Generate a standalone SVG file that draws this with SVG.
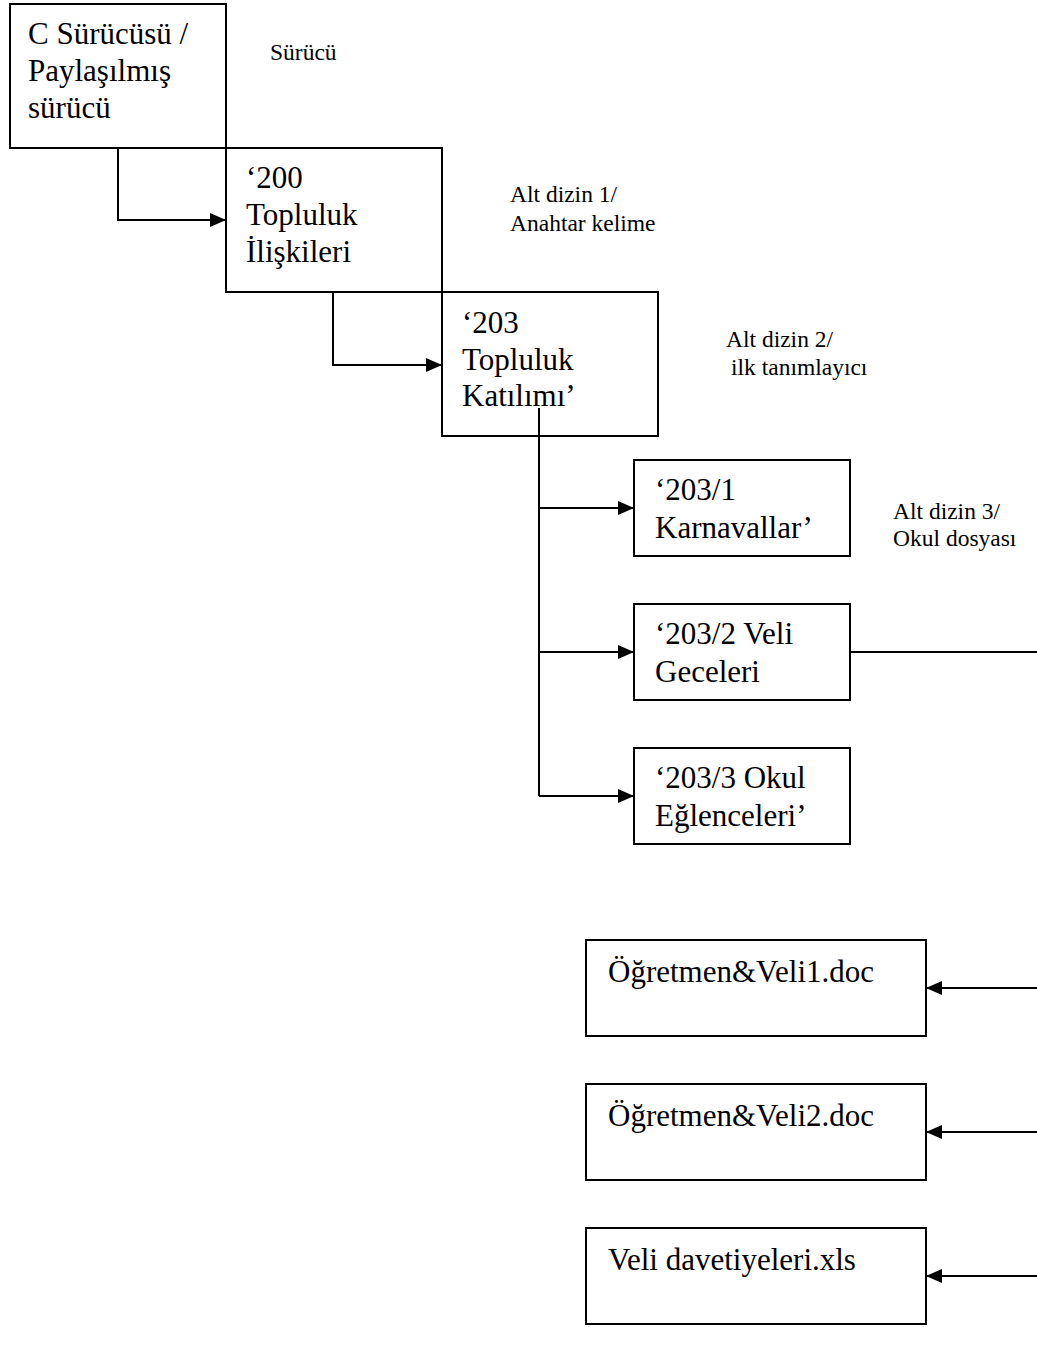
<svg xmlns="http://www.w3.org/2000/svg" width="1037" height="1346" viewBox="0 0 1037 1346">
<style>
.box{fill:#fff;stroke:#000;stroke-width:2}
.t{font-family:"Liberation Serif","Times New Roman",serif;font-size:31px;fill:#000}
.s{font-family:"Liberation Serif","Times New Roman",serif;font-size:23.5px;fill:#000}
.c{fill:none;stroke:#000;stroke-width:2}
</style>
<defs>
<marker id="ah" viewBox="0 0 16 14" refX="16" refY="7" markerWidth="16" markerHeight="14" markerUnits="userSpaceOnUse" orient="auto">
<path d="M0,0 L16,7 L0,14 Z" fill="#000"/>
</marker>
</defs>
<rect width="1037" height="1346" fill="#fff"/>
<g id="n-c">
<rect class="box" x="10" y="4" width="216" height="144"/>
<text class="t" x="28" y="44">C Sürücüsü /</text>
<text class="t" x="28" y="81">Paylaşılmış</text>
<text class="t" x="28" y="118">sürücü</text>
</g>
<g id="n-200">
<rect class="box" x="226" y="148" width="216" height="144"/>
<text class="t" x="246" y="188">‘200</text>
<text class="t" x="246" y="225">Topluluk</text>
<text class="t" x="246" y="262">İlişkileri</text>
</g>
<g id="n-203">
<rect class="box" x="442" y="292" width="216" height="144"/>
<text class="t" x="462" y="333">‘203</text>
<text class="t" x="462" y="370">Topluluk</text>
<text class="t" x="462" y="406">Katılımı’</text>
</g>
<g id="n-2031">
<rect class="box" x="634" y="460" width="216" height="96"/>
<text class="t" x="655" y="500">‘203/1</text>
<text class="t" x="655" y="538">Karnavallar’</text>
</g>
<g id="n-2032">
<rect class="box" x="634" y="604" width="216" height="96"/>
<text class="t" x="655" y="644">‘203/2 Veli</text>
<text class="t" x="655" y="682">Geceleri</text>
</g>
<g id="n-2033">
<rect class="box" x="634" y="748" width="216" height="96"/>
<text class="t" x="655" y="788">‘203/3 Okul</text>
<text class="t" x="655" y="826">Eğlenceleri’</text>
</g>
<g id="n-f1">
<rect class="box" x="586" y="940" width="340" height="96"/>
<text class="t" x="608" y="982">Öğretmen&amp;Veli1.doc</text>
</g>
<g id="n-f2">
<rect class="box" x="586" y="1084" width="340" height="96"/>
<text class="t" x="608" y="1126">Öğretmen&amp;Veli2.doc</text>
</g>
<g id="n-f3">
<rect class="box" x="586" y="1228" width="340" height="96"/>
<text class="t" x="608" y="1270">Veli davetiyeleri.xls</text>
</g>
<g id="labels">
<text class="s" x="270" y="60">Sürücü</text>
<text class="s" x="510" y="202">Alt dizin 1/</text>
<text class="s" x="510" y="231">Anahtar kelime</text>
<text class="s" x="726" y="347">Alt dizin 2/</text>
<text class="s" x="731" y="375">ilk tanımlayıcı</text>
<text class="s" x="893" y="519">Alt dizin 3/</text>
<text class="s" x="893" y="546">Okul dosyası</text>
</g>
<g id="connectors">
<path class="c" d="M118,148 V220 H226" marker-end="url(#ah)"/>
<path class="c" d="M333,292 V365 H442" marker-end="url(#ah)"/>
<path class="c" d="M539,408 V796"/>
<path class="c" d="M539,508 H634" marker-end="url(#ah)"/>
<path class="c" d="M539,652 H634" marker-end="url(#ah)"/>
<path class="c" d="M539,796 H634" marker-end="url(#ah)"/>
<path class="c" d="M850,652 H1037"/>
<path class="c" d="M1037,988 H926" marker-end="url(#ah)"/>
<path class="c" d="M1037,1132 H926" marker-end="url(#ah)"/>
<path class="c" d="M1037,1276 H926" marker-end="url(#ah)"/>
</g>
</svg>
